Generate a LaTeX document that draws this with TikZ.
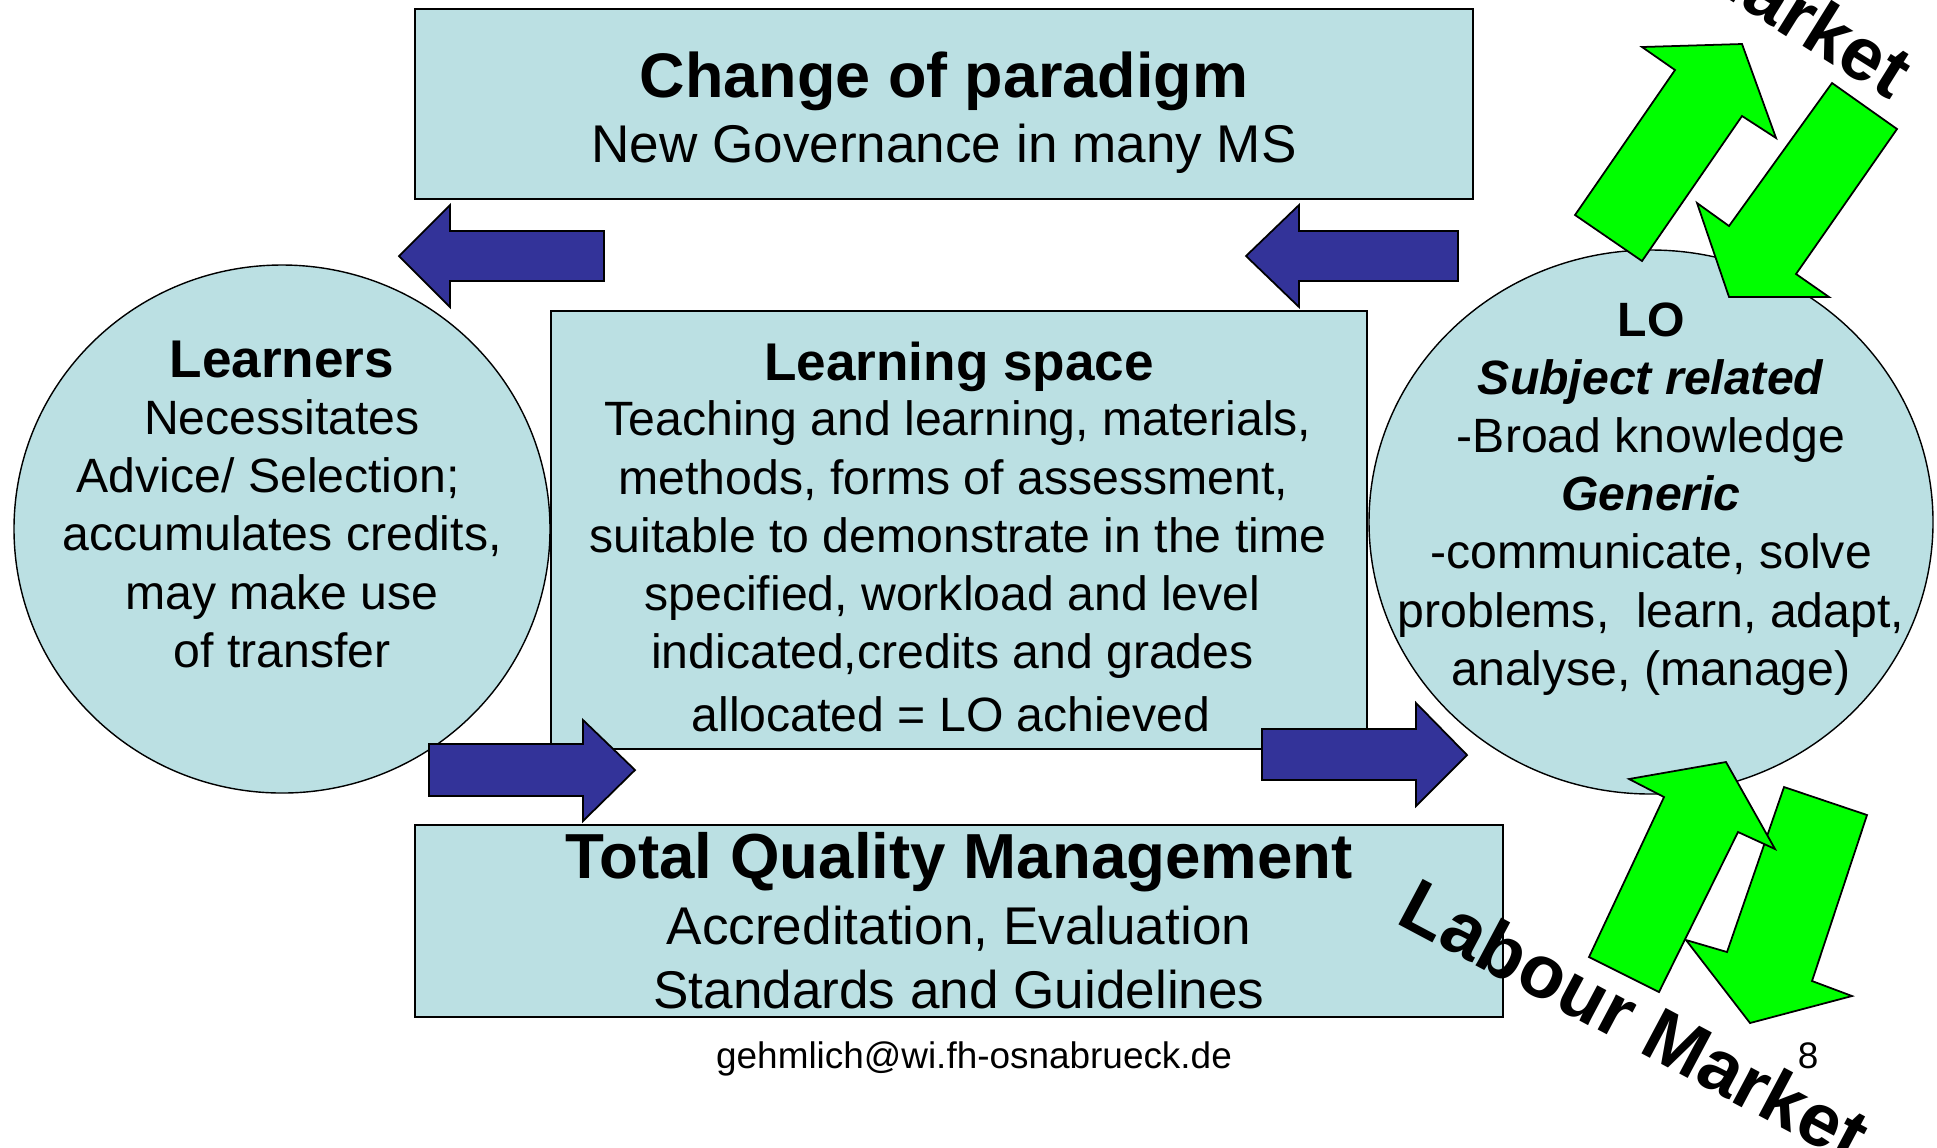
\documentclass[tikz,border=0pt]{standalone}
\usepackage{fontspec}
\setmainfont{Liberation Sans}
\definecolor{boxblue}{RGB}{187,224,227}
\definecolor{arrowblue}{RGB}{51,51,153}
\definecolor{arrowgreen}{RGB}{0,255,0}
\newcommand\pxfont[2]{\fontsize{#1}{#2}\selectfont}
\newcommand\trail[1]{\hspace*{#1}\mbox{}}
\begin{document}
\begin{tikzpicture}[x=.01cm,y=-.01cm,
		box/.style={draw,fill=boxblue,line width=.5pt},
		blk/.style={draw,fill=arrowblue,line width=.5pt},
		grn/.style={draw,fill=arrowgreen,line width=.5pt},
		txt/.style={inner sep=0,anchor=base,align=center},
		market/.style={inner sep=0,anchor=base west,font=\bfseries\pxfont{21.3}{24}}]
	\useasboundingbox (0,0) rectangle (1937,1147);
	\draw[box] (415,9) rectangle (1473,199);
	\draw[box,line width=.4pt] (282,529) ellipse [x radius=268,y radius=264];
	\draw[box] (551,311) rectangle (1367,749);
	\draw[box] (415,825) rectangle (1503,1017);
	\draw[box,line width=.4pt] (1651,522) ellipse [x radius=282,y radius=272];
	\node[txt,font=\bfseries\pxfont{17.9}{20}] (paradigm) at (944,97) {Change of paradigm};
	\node[txt,font=\pxfont{15.1}{18}] (governance) at (944,162) {New Governance in many MS};
	\node[txt,font=\bfseries\pxfont{15.1}{18}] (learners) at (282,377) {Learners};
	\node[txt,font=\pxfont{13.7}{16.5}] (learnerstext) at (282,667) {Necessitates\\Advice/ Selection;\trail{.57em}\\accumulates credits,\\may make use\\of transfer};
	\node[txt,font=\bfseries\pxfont{15.1}{18}] (space) at (959,380) {Learning space};
	\node[txt,font=\pxfont{13.7}{16.5}] (spacetext) at (958,731) {Teaching and learning, materials,\\methods, forms of assessment,\trail{.2em}\\suitable to demonstrate in the time\\specified, workload and level\trail{.23em}\\indicated,credits and grades\trail{.23em}\\[1.4pt]allocated = LO achieved\trail{.3em}};
	\node[txt,font=\pxfont{13.7}{16.5}] (lo) at (1651,685) {\textbf{LO}\\\textbf{\textit{Subject related}}\\-Broad knowledge\\\textbf{\textit{Generic}}\\-communicate, solve\\problems,\ \ learn, adapt,\\analyse, (manage)};
	\node[txt,font=\bfseries\pxfont{18.1}{20}] (tqm) at (959,878) {Total Quality Management};
	\node[txt,font=\pxfont{15.1}{18.2}] (tqmtext) at (959,1008) {Accreditation, Evaluation\\Standards and Guidelines};
	\node[txt,font=\pxfont{10.5}{12}] (mail) at (974,1068) {gehmlich@wi.fh-osnabrueck.de};
	\node[txt,font=\pxfont{10.5}{12}] (page) at (1808,1068) {8};
	\draw[blk] (604,231) -- (450,231) -- (450,205) -- (399,256) -- (450,307) -- (450,281) -- (604,281) -- cycle;
	\draw[blk] (1458,231) -- (1299,231) -- (1299,205) -- (1246,256) -- (1299,307) -- (1299,281) -- (1458,281) -- cycle;
	\draw[blk] (429,744) -- (583,744) -- (583,720) -- (635,770) -- (583,821) -- (583,796) -- (429,796) -- cycle;
	\draw[blk] (1262,729) -- (1416,729) -- (1416,703) -- (1467,755) -- (1416,806) -- (1416,780) -- (1262,780) -- cycle;
	\draw[grn] (1575,215) -- (1642,261) -- (1742,116) -- (1776,138) -- (1742,44) -- (1642,47) -- (1675,70) -- cycle;
	\draw[grn] (1832,83) -- (1897,129) -- (1796,274) -- (1829,297) -- (1729,297) -- (1697,203) -- (1729,226) -- cycle;
	\draw[grn] (1784,787) -- (1867,815) -- (1812,981) -- (1852,996) -- (1750,1023) -- (1686,940) -- (1727,952) -- cycle;
	\draw[grn] (1589,957) -- (1659,992) -- (1738,832) -- (1775,849) -- (1726,762) -- (1629,779) -- (1664,797) -- cycle;
	\node[market,rotate=-32] (markettop) at (1452,-173) {Labour Market};
	\node[market,rotate=-28] (marketbottom) at (1394,922) {Labour Market};
\end{tikzpicture}
\end{document}
